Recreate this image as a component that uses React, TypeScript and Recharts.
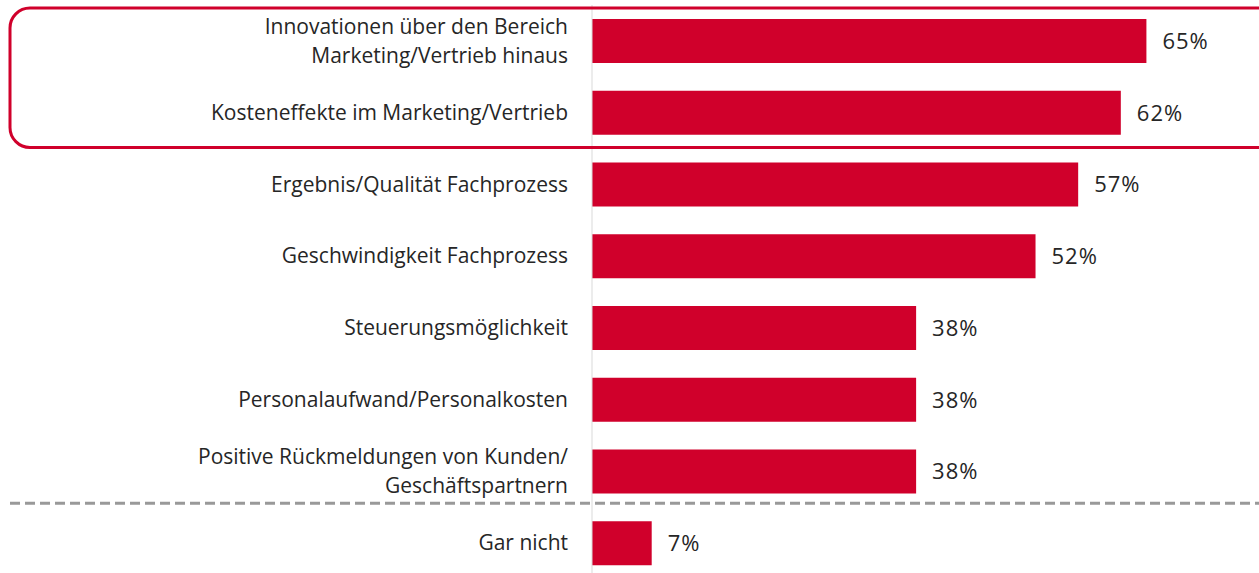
import React from "react";
import { BarChart, Bar, XAxis, YAxis, LabelList } from "recharts";

const categories: string[] = [
  "Innovationen über den Bereich\nMarketing/Vertrieb hinaus",
  "Kosteneffekte im Marketing/Vertrieb",
  "Ergebnis/Qualität Fachprozess",
  "Geschwindigkeit Fachprozess",
  "Steuerungsmöglichkeit",
  "Personalaufwand/Personalkosten",
  "Positive Rückmeldungen von Kunden/\nGeschäftspartnern",
  "Gar nicht",
];
const values: number[] = [65, 62, 57, 52, 38, 38, 38, 7];

const data = categories.map((c, i) => ({ name: c, value: values[i] }));

const W = 1259;
const H = 579;
const TOP = 5;
const AXIS_W = 592;
const RED = "#D0002B";
const FONT = "'Open Sans', sans-serif";

const plotH = H - TOP;
const bandH = plotH / categories.length;

const Tick = (props: any) => {
  const { x, y, payload } = props;
  const lines = String(payload.value).split("\n");
  const lh = 29;
  const start = -((lines.length - 1) * lh) / 2;
  return (
    <text
      x={x - 22}
      y={y}
      textAnchor="end"
      fill="#262626"
      fontSize={21}
      fontFamily={FONT}
    >
      {lines.map((l, i) => (
        <tspan key={i} x={x - 22} y={y + start + i * lh} dy="0.35em">
          {l}
        </tspan>
      ))}
    </text>
  );
};

export default function App() {
  return (
    <div
      style={{
        position: "absolute",
        left: 0,
        top: 0,
        width: W,
        height: 573,
        overflow: "hidden",
        background: "#fff",
      }}
    >
      <BarChart
        width={W}
        height={H}
        data={data}
        layout="vertical"
        margin={{ top: TOP, right: 0, bottom: 0, left: 0 }}
      >
        <XAxis type="number" domain={[0, 78.2]} hide />
        <YAxis
          type="category"
          dataKey="name"
          width={AXIS_W}
          axisLine={{ stroke: "#d9d9d9", strokeWidth: 1 }}
          tickLine={false}
          tickSize={0}
          tick={<Tick />}
          interval={0}
        />
        <Bar dataKey="value" fill={RED} barSize={44} isAnimationActive={false}>
          <LabelList
            dataKey="value"
            position="right"
            offset={16}
            formatter={(v: any) => `${v}%`}
            fill="#262626"
            fontSize={22}
            fontFamily={FONT}
            letterSpacing={1}
          />
        </Bar>
      </BarChart>
      <svg
        width={W}
        height={573}
        style={{ position: "absolute", left: 0, top: 0, pointerEvents: "none" }}
      >
        <rect
          x={10}
          y={TOP + 3}
          width={W + 20}
          height={2 * bandH - 4}
          rx={20}
          ry={20}
          fill="none"
          stroke={RED}
          strokeWidth={3}
        />
        <line
          x1={10}
          x2={W}
          y1={TOP + 7 * bandH - 4}
          y2={TOP + 7 * bandH - 4}
          stroke="#999"
          strokeWidth={3}
          strokeDasharray="10 5"
        />
      </svg>
    </div>
  );
}
